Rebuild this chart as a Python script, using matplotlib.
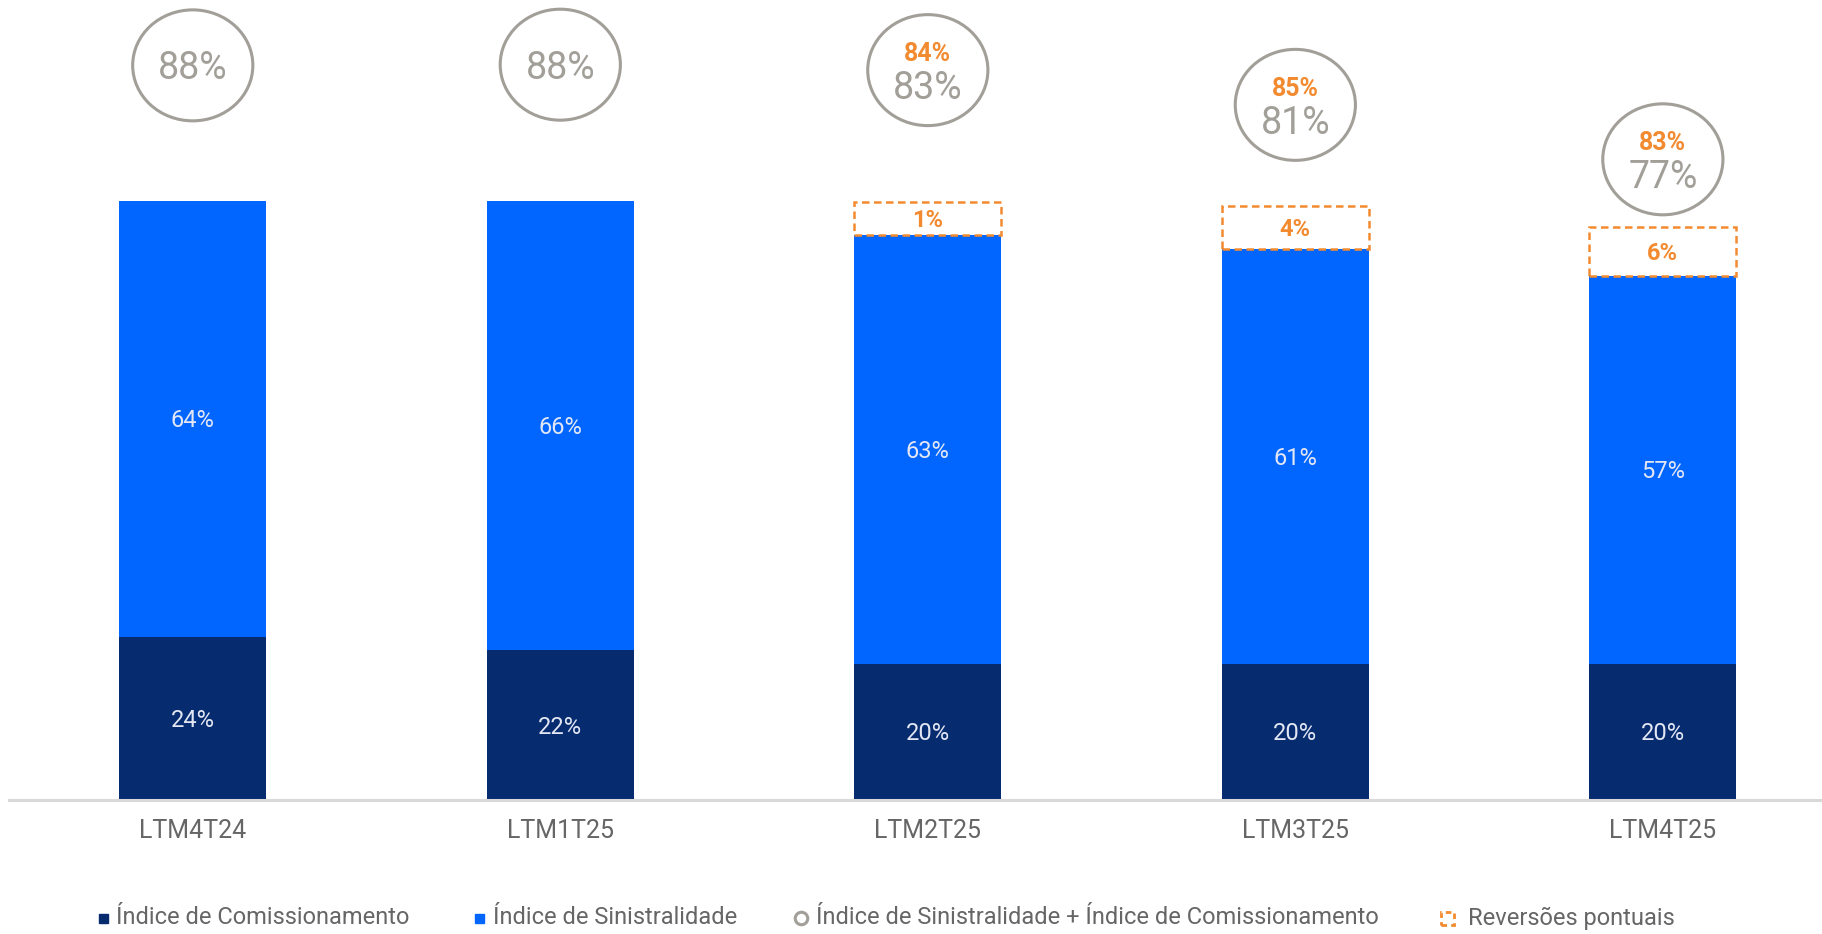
import matplotlib
matplotlib.use('Agg')
import matplotlib.pyplot as plt
from matplotlib.patches import Rectangle, Ellipse
from matplotlib.lines import Line2D

plt.rcParams['font.family'] = ['Roboto', 'DejaVu Sans']

# data
periods = ['LTM4T24', 'LTM1T25', 'LTM2T25', 'LTM3T25', 'LTM4T25']
comissionamento = [24, 22, 20, 20, 20]
sinistralidade = [64, 66, 63, 61, 57]
indice_total = [88, 88, 83, 81, 77]
reversoes = [None, None, 1, 4, 6]
total_com_reversao = [None, None, 84, 85, 83]

legend_labels = ['Índice de Comissionamento', 'Índice de Sinistralidade',
                 'Índice de Sinistralidade + Índice de Comissionamento',
                 'Reversões pontuais']

# colours / layout
NAVY = '#062b6f'
BLUE = '#0066ff'
GRAY = '#a29e98'
ORANGE = '#f28a30'
LABEL = '#e3e7f3'
TICK = '#666666'
BAR_W = 0.40
circle_gap = [19.9, 20.0, 19.35, 14.9, 10.0]  # space above each stack


def box_height(v):
    # dashed boxes in the reference are not to scale, they are padded
    return 4.4 + 0.45 * v


W, H = 1822, 934
fig = plt.figure(figsize=(W / 100, H / 100), dpi=100)
ax = fig.add_axes([9 / W, 134 / H, 1 - 9 / W, 800 / H])

x = list(range(len(periods)))
ax.bar(x, comissionamento, width=BAR_W, color=NAVY, zorder=2)
ax.bar(x, sinistralidade, width=BAR_W, bottom=comissionamento, color=BLUE, zorder=2)

for i in x:
    c = comissionamento[i]
    s = sinistralidade[i]
    ax.text(i, c / 2 - 0.3, f'{c}%', ha='center', va='center', color=LABEL, fontsize=17)
    ax.text(i, c + s / 2 - 0.3, f'{s}%', ha='center', va='center', color=LABEL, fontsize=17)

    top = c + s
    r = reversoes[i]
    if r is not None:
        bh = box_height(r)
        ax.add_patch(Rectangle((i - BAR_W / 2, top), BAR_W, bh, fill=False,
                               ec=ORANGE, lw=1.8, ls=(0, (3, 1.8)), zorder=3,
                               clip_on=False))
        ax.text(i, top + bh / 2 - 0.3, f'{r}%', ha='center', va='center',
                color=ORANGE, fontsize=17, fontweight='bold')
        top += bh

    cy = top + circle_gap[i]
    ax.add_patch(Ellipse((i, cy), 0.327, 16.3, fill=False, ec=GRAY, lw=2.2,
                         clip_on=False))
    if total_com_reversao[i] is not None:
        ax.text(i, cy + 2.4, f'{total_com_reversao[i]}%', ha='center', va='center',
                color=ORANGE, fontsize=18, fontweight='bold')
        ax.text(i, cy - 2.7, f'{indice_total[i]}%', ha='center', va='center',
                color=GRAY, fontsize=27)
    else:
        ax.text(i, cy - 0.5, f'{indice_total[i]}%', ha='center', va='center',
                color=GRAY, fontsize=27)

ax.set_xlim(-0.5, 4.433)
ax.set_ylim(0, 117.5)
ax.set_xticks(x)
ax.set_xticklabels(periods, fontsize=18, color=TICK)
ax.tick_params(axis='x', length=0, pad=14)
ax.set_yticks([])
for side in ['top', 'right', 'left']:
    ax.spines[side].set_visible(False)
ax.spines['bottom'].set_color('#d9d9d9')
ax.spines['bottom'].set_linewidth(2.2)

# legend drawn by hand, positions in pixels of the reference
ly = (H - 918) / H


def fx(px):
    return px / W


fig.add_artist(Rectangle((fx(99), ly - 4.5 / H), 9 / W, 9 / H, color=NAVY,
                         transform=fig.transFigure))
fig.add_artist(Rectangle((fx(475.5), ly - 4.5 / H), 9 / W, 9 / H, color=BLUE,
                         transform=fig.transFigure))
fig.add_artist(Line2D([fx(801)], [ly], marker='o', ms=9, mfc='white', mec=GRAY,
                      mew=2.2, transform=fig.transFigure))
fig.add_artist(Rectangle((fx(1440.5), ly - 6.5 / H), 13 / W, 13 / H, fill=False,
                         ec=ORANGE, lw=2.0, ls=(0, (2, 1.5)),
                         transform=fig.transFigure))

for px, label in zip([116, 493, 816, 1468], legend_labels):
    fig.text(fx(px), ly, label, ha='left', va='center', fontsize=17, color=TICK)

fig.savefig('out.png', dpi=100, facecolor='white')
